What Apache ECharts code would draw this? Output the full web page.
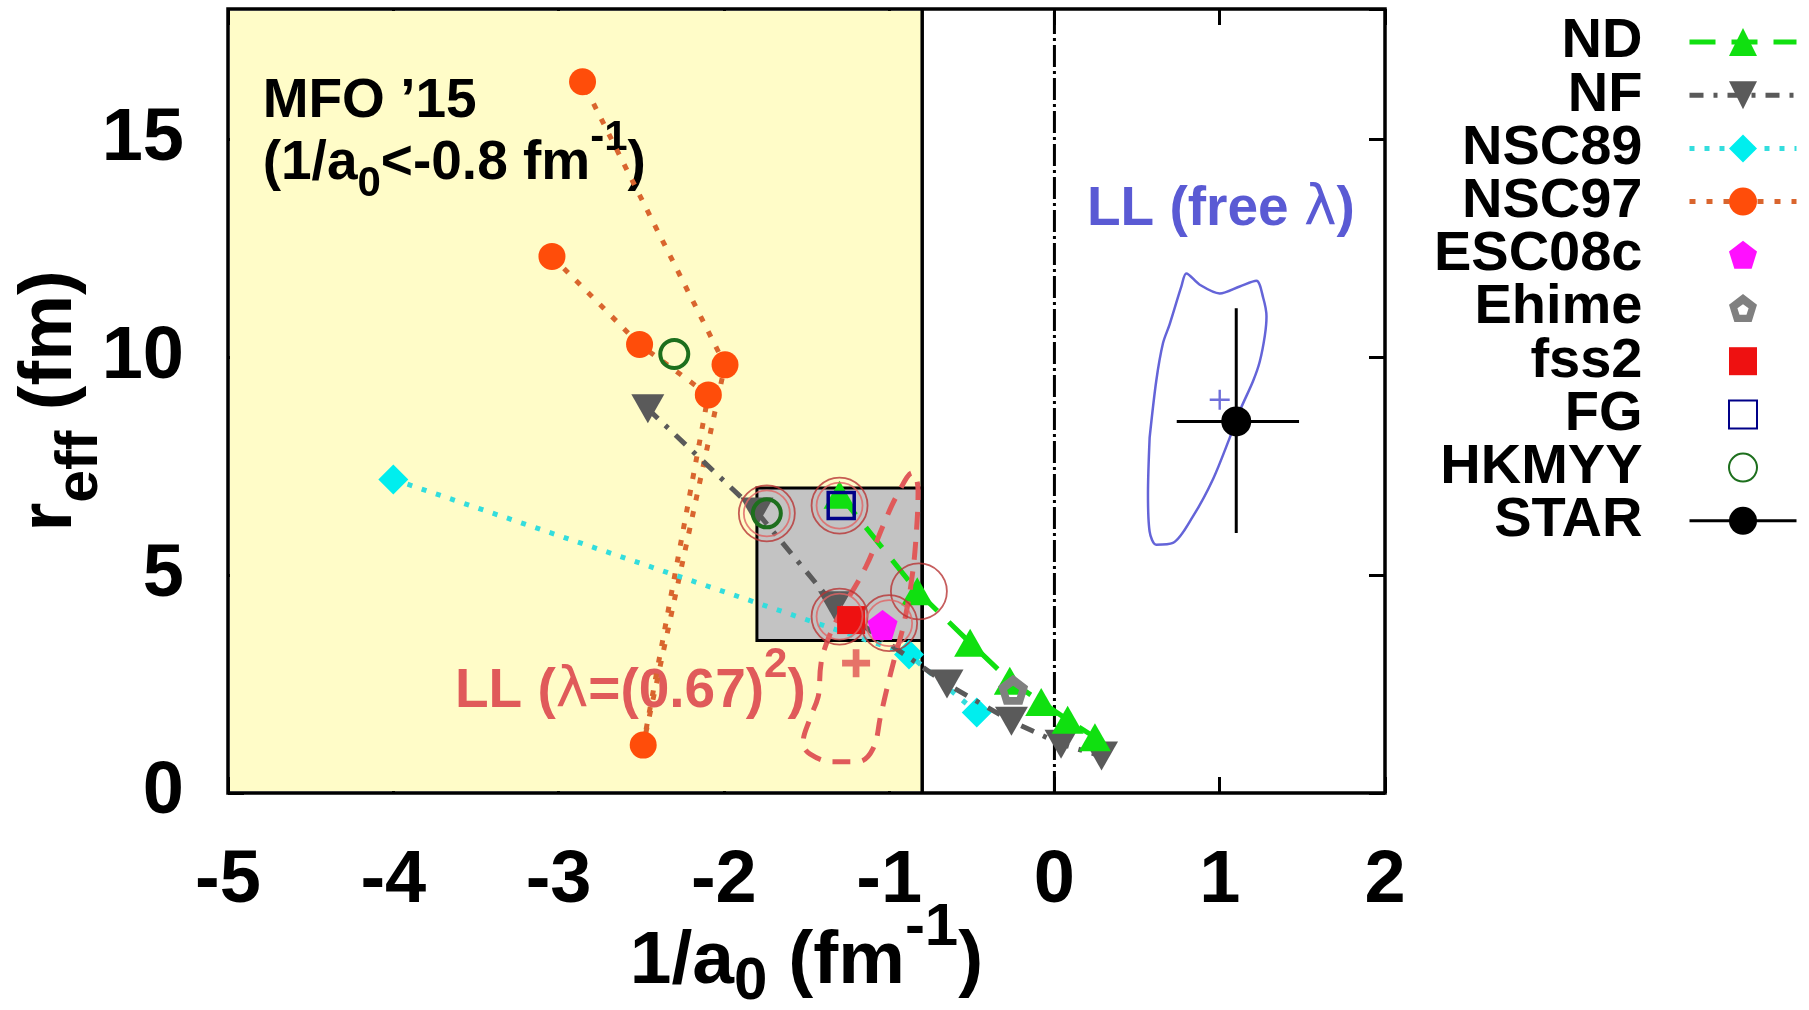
<!DOCTYPE html>
<html>
<head>
<meta charset="utf-8">
<script src="https://cdn.jsdelivr.net/npm/echarts@6/dist/echarts.min.js"></script>
<style>
html, body { margin: 0; padding: 0; background: #fff; }
#chart { width: 1809px; height: 1010px; }
</style>
</head>
<body>
<div id="chart"></div>
<script>
const FONT = '"Liberation Sans", Arial, Helvetica, sans-serif';

// --- model points (x = 1/a0 [fm^-1], y = r_eff [fm]) ---
const ndX = [-1.30, -0.83, -0.51, -0.27, -0.08, 0.08, 0.245];
const ndY = [6.85, 4.63, 3.45, 2.58, 2.09, 1.68, 1.28];
const nfX = [-2.46, -1.80, -1.33, -0.65, -0.26, 0.04, 0.285];
const nfY = [8.82, 6.45, 4.30, 2.50, 1.65, 1.12, 0.85];
const nsc89X = [-4.00, -0.88, -0.47];
const nsc89Y = [7.20, 3.18, 1.85];
// drawn in this order (the dotted line joins them so)
const nsc97X = [-3.04, -2.51, -2.094, -2.488, -1.993, -2.855];
const nsc97Y = [12.32, 10.30, 9.14, 1.10, 9.83, 16.33];
const esc08cX = [-1.04], esc08cY = [3.86];
const ehimeX = [-0.25], ehimeY = [2.37];
const fss2X = [-1.23], fss2Y = [3.97];
const fgX = [-1.29], fgY = [6.60];
const hkmyyX = [-2.30, -1.74], hkmyyY = [10.08, 6.42];

// STAR measurement with error bars
const starX = [1.10], starY = [8.53];
const starXLo = [0.74], starXHi = [1.48];
const starYLo = [5.97], starYHi = [11.13];

// LL fit, free lambda: contour and best point
const llFreeX = [0.576, 0.616, 0.657, 0.697, 0.768, 0.798, 0.879, 1.000, 1.121, 1.222, 1.263, 1.283, 1.273, 1.242, 1.202, 1.121, 1.061, 0.960, 0.838, 0.717, 0.616, 0.576, 0.566, 0.576];
const llFreeY = [8.16, 9.46, 10.33, 10.76, 11.63, 11.93, 11.67, 11.47, 11.63, 11.76, 11.37, 10.94, 10.50, 9.90, 9.46, 8.77, 8.16, 7.21, 6.35, 5.74, 5.70, 6.00, 6.87, 8.16];
const llFreeBestX = [1.00], llFreeBestY = [9.03];

// LL fit, lambda = 0.67^2: contour and best point
const llFixX = [-1.42, -1.40, -1.30, -1.14, -1.03, -0.95, -0.86, -0.825, -0.835, -0.86, -0.91, -0.965, -1.01, -1.05, -1.10, -1.19, -1.34, -1.48, -1.52, -1.48, -1.43, -1.42];
const llFixY = [2.60, 3.20, 4.10, 5.20, 6.20, 6.85, 7.35, 6.95, 6.00, 5.00, 3.90, 3.13, 2.45, 1.80, 1.00, 0.72, 0.72, 0.90, 1.15, 1.70, 2.20, 2.60];
const llFixBestX = [-1.20], llFixBestY = [2.98];

// red rings around the selected models
const ringX = [-1.74, -1.30, -1.30, -1.00, -0.82];
const ringY = [6.42, 6.60, 4.05, 3.90, 4.63];
const ringDouble = [true, true, true, true, false];

// shaded regions
const mfoX = [-5, -0.8], mfoY = [0, 18];
const boxX = [-1.8, -0.8], boxY = [3.5, 7.0];
const vLineX = [-0.8, 0];

// annotations (left x, baseline y)
const noteX = [-4.79, -4.79, 0.197, -3.627];
const noteY = [15.43, 14.00, 12.95, 1.89];
const noteText = [
  "{b|MFO \u201915}",
  "{b|(1/a}{sub|0}{b|<-0.8 fm}{sup|-1}{b|)}",
  "{b|LL (free }{g|\u03bb}{b|)}",
  "{b|LL (}{g|\u03bb}{b|=(0.67)}{sup|2}{b|)}"
];
const noteColor = ['#000', '#000', '#5a5ad4', '#e05a5a'];

const zip = (xs, ys) => xs.map((x, i) => [x, ys[i]]);

const pentagon = 'path://M50,0L97.6,34.5L79.4,90.5L20.6,90.5L2.4,34.5Z';
// open pentagon drawn with a thick pen: outer outline with a small hole
const pentagonOpen = 'path://M50,0L97.6,34.5L79.4,90.5L20.6,90.5L2.4,34.5Z M50,33L31,46L38.2,67L61.8,67L69,46Z';
const downTri = 'path://M0,0L100,0L50,86Z';
const plusThick = 'path://M38,0H62V38H100V62H62V100H38V62H0V38H38Z';
const plusThin = 'path://M44,0H56V44H100V56H56V100H44V56H0V44H44Z';

function noteRich(color) {
  return {
    b: { fontSize: 55, fontWeight: 'bold', fontFamily: FONT, fill: color },
    g: { fontSize: 55, fontWeight: 'normal', fontFamily: '"DejaVu Sans", ' + FONT, fill: color },
    sub: { fontSize: 42, fontWeight: 'bold', fontFamily: FONT, fill: color, padding: [40, 0, 0, 0] },
    sup: { fontSize: 42, fontWeight: 'bold', fontFamily: FONT, fill: color, padding: [0, 0, 52, 0] }
  };
}

const chart = echarts.init(document.getElementById('chart'));

const markerOnly = { width: 0, opacity: 0 };

const option = {
  animation: false,
  backgroundColor: '#fff',
  textStyle: { fontFamily: FONT },
  grid: {
    left: 228, right: 424, top: 9, bottom: 217,
    outerBoundsMode: 'none', containLabel: false,
    show: true, borderColor: '#000', borderWidth: 3.5, backgroundColor: 'rgba(0,0,0,0)'
  },
  xAxis: [
    {
      type: 'value', min: -5, max: 2, interval: 1, position: 'bottom',
      splitLine: { show: false },
      axisLine: { show: false, onZero: false },
      axisTick: { inside: true, length: 16, lineStyle: { color: '#000', width: 3 } },
      axisLabel: { fontSize: 74, fontWeight: 'bold', color: '#000', margin: 52, fontFamily: FONT },
      name: '{b|1/a}{sub|0}{b| (fm}{sup|-1}{b|)}',
      nameLocation: 'middle', nameGap: 105, nameMoveOverlap: false,
      nameTextStyle: {
        rich: {
          b: { fontSize: 75, fontWeight: 'bold', fontFamily: FONT, color: '#000' },
          sub: { fontSize: 60, fontWeight: 'bold', fontFamily: FONT, color: '#000', padding: [40, 0, 0, 0] },
          sup: { fontSize: 60, fontWeight: 'bold', fontFamily: FONT, color: '#000', padding: [0, 0, 68, 0] }
        }
      }
    },
    {
      type: 'value', min: -5, max: 2, interval: 1, position: 'top',
      splitLine: { show: false },
      axisLine: { show: false, onZero: false },
      axisTick: { inside: true, length: 16, lineStyle: { color: '#000', width: 3 } },
      axisLabel: { show: false }
    }
  ],
  yAxis: [
    {
      type: 'value', min: 0, max: 18, interval: 5, position: 'left',
      splitLine: { show: false },
      axisLine: { show: false, onZero: false },
      axisTick: { inside: true, length: 16, lineStyle: { color: '#000', width: 3 } },
      axisLabel: { fontSize: 74, fontWeight: 'bold', color: '#000', margin: 44, fontFamily: FONT, showMaxLabel: false },
      name: '{b|r}{sub|eff}{b| (fm)}',
      nameLocation: 'middle', nameGap: 118, nameMoveOverlap: false,
      nameTextStyle: {
        rich: {
          b: { fontSize: 74, fontWeight: 'bold', fontFamily: FONT, color: '#000' },
          sub: { fontSize: 59, fontWeight: 'bold', fontFamily: FONT, color: '#000', padding: [60, 0, 0, 0] }
        }
      }
    },
    {
      type: 'value', min: 0, max: 18, interval: 5, position: 'right',
      splitLine: { show: false },
      axisLine: { show: false, onZero: false },
      axisTick: { inside: true, length: 16, lineStyle: { color: '#000', width: 3 } },
      axisLabel: { show: false }
    }
  ],
  legend: {
    orient: 'vertical', right: 10, top: 14, align: 'right', padding: 0,
    itemWidth: 107, itemHeight: 35, itemGap: -2.8, selectedMode: false,
    lineStyle: { width: 5 },
    textStyle: { fontSize: 56, fontWeight: 'bold', color: '#000', fontFamily: FONT, padding: [0, 42, 0, 0] },
    data: ['ND', 'NF', 'NSC89', 'NSC97', 'ESC08c', 'Ehime', 'fss2', 'FG', 'HKMYY',
      { name: 'STAR', lineStyle: { width: 3 } }]
  },
  series: [
    {
      type: 'custom', name: 'regions', z: 1, silent: true,
      data: [[mfoX[0], mfoY[0]]],
      renderItem(params, api) {
        const a = api.coord([mfoX[0], mfoY[1]]);
        const b = api.coord([mfoX[1], mfoY[0]]);
        const c = api.coord([boxX[0], boxY[1]]);
        const d = api.coord([boxX[1], boxY[0]]);
        return {
          type: 'group',
          children: [
            { type: 'rect', shape: { x: a[0] + 2, y: a[1] + 2, width: b[0] - a[0] - 2, height: b[1] - a[1] - 4 }, style: { fill: '#fffcc8' } },
            { type: 'rect', shape: { x: c[0], y: c[1], width: d[0] - c[0], height: d[1] - c[1] }, style: { fill: '#c3c3c3', stroke: '#000', lineWidth: 3 } }
          ]
        };
      }
    },
    {
      type: 'custom', name: 'notes', z: 2, silent: true,
      data: noteX.map((x, i) => [x, noteY[i]]),
      renderItem(params, api) {
        const i = params.dataIndex;
        const p = api.coord([noteX[i], noteY[i]]);
        return {
          type: 'text', x: p[0], y: p[1] - 19,
          style: {
            text: noteText[i], rich: noteRich(noteColor[i]),
            fontSize: 55, fontWeight: 'bold', fontFamily: FONT, fill: noteColor[i],
            align: 'left', verticalAlign: 'middle', textAlign: 'left', textVerticalAlign: 'middle'
          }
        };
      }
    },
    {
      type: 'custom', name: 'vlines', z: 3, silent: true,
      data: vLineX.map(x => [x, 0]),
      renderItem(params, api) {
        const i = params.dataIndex;
        const p0 = api.coord([vLineX[i], mfoY[0]]);
        const p1 = api.coord([vLineX[i], mfoY[1]]);
        return {
          type: 'line', shape: { x1: p0[0], y1: p0[1], x2: p1[0], y2: p1[1] },
          style: i === 0 ? { stroke: '#000', lineWidth: 3.5 } : { stroke: '#000', lineWidth: 3, lineDash: [22, 4, 3, 4] }
        };
      }
    },
    {
      type: 'line', name: 'NSC97', z: 4, data: zip(nsc97X, nsc97Y),
      symbol: 'circle', symbolSize: 27, showAllSymbol: true,
      itemStyle: { color: '#ff4d0a' },
      lineStyle: { color: '#d9652e', width: 5, type: [6, 11] }
    },
    {
      type: 'line', name: 'NSC89', z: 4, data: zip(nsc89X, nsc89Y),
      symbol: 'diamond', symbolSize: [30, 30], showAllSymbol: true,
      itemStyle: { color: '#00eeee' },
      lineStyle: { color: '#33dddd', width: 5, type: [5, 10] }
    },
    {
      type: 'line', name: 'NF', z: 5, data: zip(nfX, nfY),
      symbol: downTri, symbolSize: [33, 29], showAllSymbol: true,
      itemStyle: { color: '#5a5a5a' },
      lineStyle: { color: '#5a5a5a', width: 5, type: [14, 10, 4, 10] }
    },
    {
      type: 'line', name: 'ND', z: 5, data: zip(ndX, ndY),
      symbol: 'triangle', symbolSize: [32, 28], showAllSymbol: true,
      itemStyle: { color: '#10e010' },
      lineStyle: { color: '#10e010', width: 5, type: [26, 16] }
    },
    {
      type: 'line', name: 'LLfix', z: 6, data: zip(llFixX, llFixY), smooth: 0.4,
      symbol: 'none', silent: true,
      lineStyle: { color: '#e05a5a', width: 5, type: [18, 12] }
    },
    {
      type: 'line', name: 'LLfree', z: 6, data: zip(llFreeX, llFreeY), smooth: 0.3,
      symbol: 'none', silent: true,
      lineStyle: { color: '#6464d8', width: 2.5 }
    },
    {
      type: 'line', name: 'Ehime', z: 7, data: zip(ehimeX, ehimeY),
      symbol: pentagonOpen, symbolSize: 30,
      itemStyle: { color: '#808080' },
      lineStyle: markerOnly
    },
    {
      type: 'line', name: 'HKMYY', z: 7, data: zip(hkmyyX, hkmyyY),
      symbol: 'circle', symbolSize: 28, showAllSymbol: true,
      itemStyle: { color: 'rgba(0,0,0,0)', borderColor: '#1d6f1d', borderWidth: 4 },
      lineStyle: markerOnly
    },
    {
      type: 'line', name: 'FG', z: 7, data: zip(fgX, fgY),
      symbol: 'rect', symbolSize: 26,
      itemStyle: { color: 'rgba(0,0,0,0)', borderColor: '#000088', borderWidth: 3.5 },
      lineStyle: markerOnly
    },
    {
      type: 'line', name: 'fss2', z: 7, data: zip(fss2X, fss2Y),
      symbol: 'rect', symbolSize: 28,
      itemStyle: { color: '#ee1111' },
      lineStyle: markerOnly
    },
    {
      type: 'line', name: 'ESC08c', z: 7, data: zip(esc08cX, esc08cY),
      symbol: pentagon, symbolSize: 30,
      itemStyle: { color: '#ff10ff' },
      lineStyle: markerOnly
    },
    {
      type: 'scatter', name: 'rings outer', z: 8, silent: true,
      data: zip(ringX, ringY), symbol: 'circle', symbolSize: 56,
      itemStyle: { color: 'rgba(0,0,0,0)', borderColor: '#b83434', borderWidth: 1.8 }
    },
    {
      type: 'scatter', name: 'rings inner', z: 8, silent: true,
      data: zip(ringX, ringY).filter((p, i) => ringDouble[i]), symbol: 'circle', symbolSize: 46,
      itemStyle: { color: 'rgba(0,0,0,0)', borderColor: '#e06464', borderWidth: 1.8 }
    },
    {
      type: 'scatter', name: 'LLfix best', z: 8, silent: true,
      data: zip(llFixBestX, llFixBestY), symbol: plusThick, symbolSize: 28,
      itemStyle: { color: '#e05050' }
    },
    {
      type: 'scatter', name: 'LLfree best', z: 8, silent: true,
      data: zip(llFreeBestX, llFreeBestY), symbol: plusThin, symbolSize: 20,
      itemStyle: { color: '#4a4ad0' }
    },
    {
      type: 'custom', name: 'STAR errors', z: 8, silent: true,
      data: zip(starX, starY),
      renderItem(params, api) {
        const i = params.dataIndex;
        const l = api.coord([starXLo[i], starY[i]]);
        const r = api.coord([starXHi[i], starY[i]]);
        const t = api.coord([starX[i], starYHi[i]]);
        const b = api.coord([starX[i], starYLo[i]]);
        const st = { stroke: '#000', lineWidth: 3 };
        return {
          type: 'group',
          children: [
            { type: 'line', shape: { x1: l[0], y1: l[1], x2: r[0], y2: r[1] }, style: st },
            { type: 'line', shape: { x1: t[0], y1: t[1], x2: b[0], y2: b[1] }, style: st }
          ]
        };
      }
    },
    {
      type: 'line', name: 'STAR', z: 9, data: zip(starX, starY),
      symbol: 'circle', symbolSize: 30,
      itemStyle: { color: '#000' },
      lineStyle: { color: '#000', width: 3 }
    }
  ]
};

chart.setOption(option);
</script>
</body>
</html>
